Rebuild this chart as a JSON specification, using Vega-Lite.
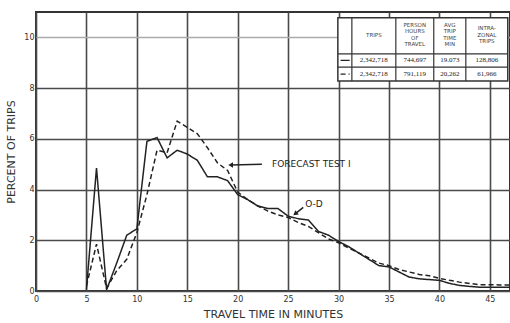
{
  "$schema": "https://vega.github.io/schema/vega-lite/v6.json",
  "width": 474,
  "height": 279,
  "autosize": "none",
  "padding": {"left": 36, "top": 12, "right": 0, "bottom": 32},
  "background": "white",
  "config": {
    "view": {"stroke": "#333", "strokeWidth": 2},
    "font": "DejaVu Sans"
  },
  "datasets": {
    "curves": [
      {"t": 5, "v": 0.05, "series": "O-D"}, {"t": 6, "v": 4.85, "series": "O-D"}, {"t": 7, "v": 0.05, "series": "O-D"},
      {"t": 8, "v": 1.1, "series": "O-D"}, {"t": 9, "v": 2.2, "series": "O-D"}, {"t": 10, "v": 2.45, "series": "O-D"},
      {"t": 11, "v": 5.9, "series": "O-D"}, {"t": 12, "v": 6.05, "series": "O-D"}, {"t": 13, "v": 5.25, "series": "O-D"},
      {"t": 14, "v": 5.55, "series": "O-D"}, {"t": 15, "v": 5.4, "series": "O-D"}, {"t": 16, "v": 5.15, "series": "O-D"},
      {"t": 17, "v": 4.5, "series": "O-D"}, {"t": 18, "v": 4.5, "series": "O-D"}, {"t": 19, "v": 4.35, "series": "O-D"},
      {"t": 20, "v": 3.8, "series": "O-D"}, {"t": 21, "v": 3.6, "series": "O-D"}, {"t": 22, "v": 3.35, "series": "O-D"},
      {"t": 23, "v": 3.25, "series": "O-D"}, {"t": 24, "v": 3.25, "series": "O-D"}, {"t": 25, "v": 2.95, "series": "O-D"},
      {"t": 26, "v": 2.85, "series": "O-D"}, {"t": 27, "v": 2.8, "series": "O-D"}, {"t": 28, "v": 2.35, "series": "O-D"},
      {"t": 29, "v": 2.2, "series": "O-D"}, {"t": 30, "v": 1.95, "series": "O-D"}, {"t": 31, "v": 1.75, "series": "O-D"},
      {"t": 32, "v": 1.5, "series": "O-D"}, {"t": 33, "v": 1.25, "series": "O-D"}, {"t": 34, "v": 1.0, "series": "O-D"},
      {"t": 35, "v": 0.95, "series": "O-D"}, {"t": 36, "v": 0.75, "series": "O-D"}, {"t": 37, "v": 0.55, "series": "O-D"},
      {"t": 38, "v": 0.48, "series": "O-D"}, {"t": 39, "v": 0.45, "series": "O-D"}, {"t": 40, "v": 0.42, "series": "O-D"},
      {"t": 41, "v": 0.3, "series": "O-D"}, {"t": 42, "v": 0.22, "series": "O-D"}, {"t": 43, "v": 0.18, "series": "O-D"},
      {"t": 44, "v": 0.15, "series": "O-D"}, {"t": 45, "v": 0.15, "series": "O-D"}, {"t": 46, "v": 0.15, "series": "O-D"},
      {"t": 47, "v": 0.15, "series": "O-D"},
      {"t": 5, "v": 0.2, "series": "FORECAST TEST I"}, {"t": 6, "v": 1.85, "series": "FORECAST TEST I"}, {"t": 7, "v": 0.1, "series": "FORECAST TEST I"},
      {"t": 8, "v": 0.8, "series": "FORECAST TEST I"}, {"t": 9, "v": 1.25, "series": "FORECAST TEST I"}, {"t": 10, "v": 2.3, "series": "FORECAST TEST I"},
      {"t": 11, "v": 3.8, "series": "FORECAST TEST I"}, {"t": 12, "v": 5.55, "series": "FORECAST TEST I"}, {"t": 13, "v": 5.45, "series": "FORECAST TEST I"},
      {"t": 14, "v": 6.7, "series": "FORECAST TEST I"}, {"t": 15, "v": 6.45, "series": "FORECAST TEST I"}, {"t": 16, "v": 6.2, "series": "FORECAST TEST I"},
      {"t": 17, "v": 5.65, "series": "FORECAST TEST I"}, {"t": 18, "v": 5.05, "series": "FORECAST TEST I"}, {"t": 19, "v": 4.75, "series": "FORECAST TEST I"},
      {"t": 20, "v": 3.9, "series": "FORECAST TEST I"}, {"t": 21, "v": 3.6, "series": "FORECAST TEST I"}, {"t": 22, "v": 3.35, "series": "FORECAST TEST I"},
      {"t": 23, "v": 3.15, "series": "FORECAST TEST I"}, {"t": 24, "v": 3.0, "series": "FORECAST TEST I"}, {"t": 25, "v": 2.9, "series": "FORECAST TEST I"},
      {"t": 26, "v": 2.7, "series": "FORECAST TEST I"}, {"t": 27, "v": 2.55, "series": "FORECAST TEST I"}, {"t": 28, "v": 2.3, "series": "FORECAST TEST I"},
      {"t": 29, "v": 2.05, "series": "FORECAST TEST I"}, {"t": 30, "v": 1.9, "series": "FORECAST TEST I"}, {"t": 31, "v": 1.7, "series": "FORECAST TEST I"},
      {"t": 32, "v": 1.5, "series": "FORECAST TEST I"}, {"t": 33, "v": 1.3, "series": "FORECAST TEST I"}, {"t": 34, "v": 1.1, "series": "FORECAST TEST I"},
      {"t": 35, "v": 1.0, "series": "FORECAST TEST I"}, {"t": 36, "v": 0.85, "series": "FORECAST TEST I"}, {"t": 37, "v": 0.75, "series": "FORECAST TEST I"},
      {"t": 38, "v": 0.65, "series": "FORECAST TEST I"}, {"t": 39, "v": 0.6, "series": "FORECAST TEST I"}, {"t": 40, "v": 0.5, "series": "FORECAST TEST I"},
      {"t": 41, "v": 0.42, "series": "FORECAST TEST I"}, {"t": 42, "v": 0.35, "series": "FORECAST TEST I"}, {"t": 43, "v": 0.3, "series": "FORECAST TEST I"},
      {"t": 44, "v": 0.25, "series": "FORECAST TEST I"}, {"t": 45, "v": 0.25, "series": "FORECAST TEST I"}, {"t": 46, "v": 0.24, "series": "FORECAST TEST I"},
      {"t": 47, "v": 0.24, "series": "FORECAST TEST I"}
    ],
    "labels": [
      {"t": 23.4, "v": 5.0, "label": "FORECAST TEST I"},
      {"t": 26.7, "v": 3.43, "label": "O-D"}
    ],
    "arrows": [
      {"t": 22.4, "v": 5.0, "t2": 19.3, "v2": 4.97},
      {"t": 26.5, "v": 3.3, "t2": 25.7, "v2": 3.04}
    ],
    "heads": [
      {"t": 19.3, "v": 4.97, "angle": 0},
      {"t": 25.7, "v": 3.04, "angle": 322}
    ],
    "tablebox": [
      {"t": 29.93, "t2": 46.78, "v": 10.77, "v2": 8.28}
    ],
    "tablevrules": [
      {"t": 31.32, "v": 10.77, "v2": 8.28},
      {"t": 35.68, "v": 10.77, "v2": 8.28},
      {"t": 39.44, "v": 10.77, "v2": 8.28},
      {"t": 42.62, "v": 10.77, "v2": 8.28}
    ],
    "tablehrules": [
      {"v": 9.35, "t": 29.93, "t2": 46.78},
      {"v": 8.83, "t": 29.93, "t2": 46.78}
    ],
    "tablekeys": [
      {"t": 30.2, "t2": 31.1, "v": 9.09, "series": "O-D"},
      {"t": 30.2, "t2": 31.1, "v": 8.55, "series": "FORECAST TEST I"}
    ],
    "tableheader": [
      {"t": 33.5, "v": 10.18, "text": ["TRIPS"]},
      {"t": 37.56, "v": 10.57, "text": ["PERSON", "HOURS", "OF", "TRAVEL"]},
      {"t": 41.03, "v": 10.57, "text": ["AVG", "TRIP", "TIME", "MIN"]},
      {"t": 44.7, "v": 10.44, "text": ["INTRA-", "ZONAL", "TRIPS"]}
    ],
    "tablecells": [
      {"t": 33.5, "v": 9.09, "text": "2,342,718"},
      {"t": 37.56, "v": 9.09, "text": "744,697"},
      {"t": 41.03, "v": 9.09, "text": "19.073"},
      {"t": 44.7, "v": 9.09, "text": "128,806"},
      {"t": 33.5, "v": 8.55, "text": "2,342,718"},
      {"t": 37.56, "v": 8.55, "text": "791,119"},
      {"t": 41.03, "v": 8.55, "text": "20,262"},
      {"t": 44.7, "v": 8.55, "text": "61,966"}
    ]
  },
  "layer": [
    {
      "data": {"name": "curves"},
      "mark": {"type": "line", "color": "#222", "strokeWidth": 1.5},
      "encoding": {
        "x": {
          "field": "t", "type": "quantitative",
          "scale": {"domain": [0, 47], "nice": false, "zero": false},
          "axis": {
            "values": [0, 5, 10, 15, 20, 25, 30, 35, 40, 45],
            "grid": true, "gridColor": "#4a4a4a", "gridWidth": 1.6,
            "ticks": false, "domain": false,
            "labelFontSize": 8, "labelPadding": 4, "labelColor": "#333", "labelFlush": false,
            "title": "TRAVEL TIME IN MINUTES", "titleFontSize": 11, "titleFontWeight": "normal",
            "titleColor": "#333", "titlePadding": 5
          }
        },
        "y": {
          "field": "v", "type": "quantitative",
          "scale": {"domain": [0, 11], "nice": false},
          "axis": {
            "values": [0, 2, 4, 6, 8, 10],
            "grid": true,
            "gridColor": {"condition": {"test": "datum.value === 10", "value": "#aaa"}, "value": "#4a4a4a"},
            "gridWidth": 1.6,
            "ticks": false, "domain": false,
            "labelFontSize": 8, "labelPadding": 2, "labelColor": "#333",
            "title": "PERCENT OF TRIPS", "titleFontSize": 11, "titleFontWeight": "normal",
            "titleColor": "#333", "titlePadding": 7
          }
        },
        "detail": {"field": "series"},
        "strokeDash": {
          "field": "series", "type": "nominal",
          "scale": {"domain": ["O-D", "FORECAST TEST I"], "range": [[1, 0], [5, 3]]},
          "legend": null
        }
      }
    },
    {
      "data": {"name": "labels"},
      "mark": {"type": "text", "align": "left", "baseline": "middle", "fontSize": 9, "color": "#222"},
      "encoding": {
        "x": {"field": "t", "type": "quantitative"},
        "y": {"field": "v", "type": "quantitative"},
        "text": {"field": "label"}
      }
    },
    {
      "data": {"name": "arrows"},
      "mark": {"type": "rule", "color": "#222", "strokeWidth": 1.5},
      "encoding": {
        "x": {"field": "t", "type": "quantitative"},
        "y": {"field": "v", "type": "quantitative"},
        "x2": {"field": "t2"},
        "y2": {"field": "v2"}
      }
    },
    {
      "data": {"name": "heads"},
      "mark": {"type": "point", "shape": "triangle-left", "filled": true, "color": "#222", "size": 30, "opacity": 1},
      "encoding": {
        "x": {"field": "t", "type": "quantitative"},
        "y": {"field": "v", "type": "quantitative"},
        "angle": {"field": "angle", "type": "quantitative", "scale": null}
      }
    },
    {
      "data": {"name": "tablebox"},
      "mark": {"type": "rect", "fill": "white", "stroke": "#333", "strokeWidth": 1.5},
      "encoding": {
        "x": {"field": "t", "type": "quantitative"},
        "x2": {"field": "t2"},
        "y": {"field": "v", "type": "quantitative"},
        "y2": {"field": "v2"}
      }
    },
    {
      "data": {"name": "tablevrules"},
      "mark": {"type": "rule", "color": "#333", "strokeWidth": 1.2},
      "encoding": {
        "x": {"field": "t", "type": "quantitative"},
        "y": {"field": "v", "type": "quantitative"},
        "y2": {"field": "v2"}
      }
    },
    {
      "data": {"name": "tablehrules"},
      "mark": {"type": "rule", "color": "#333", "strokeWidth": 1.2},
      "encoding": {
        "y": {"field": "v", "type": "quantitative"},
        "x": {"field": "t", "type": "quantitative"},
        "x2": {"field": "t2"}
      }
    },
    {
      "data": {"name": "tablekeys"},
      "mark": {"type": "rule", "color": "#222", "strokeWidth": 1.2},
      "encoding": {
        "y": {"field": "v", "type": "quantitative"},
        "x": {"field": "t", "type": "quantitative"},
        "x2": {"field": "t2"},
        "strokeDash": {
          "field": "series", "type": "nominal",
          "scale": {"domain": ["O-D", "FORECAST TEST I"], "range": [[1, 0], [2.5, 1.5]]},
          "legend": null
        }
      }
    },
    {
      "data": {"name": "tableheader"},
      "mark": {"type": "text", "align": "center", "baseline": "top", "fontSize": 5.5, "lineHeight": 6.5, "color": "#444"},
      "encoding": {
        "x": {"field": "t", "type": "quantitative"},
        "y": {"field": "v", "type": "quantitative"},
        "text": {"field": "text"}
      }
    },
    {
      "data": {"name": "tablecells"},
      "mark": {"type": "text", "align": "center", "baseline": "middle", "fontSize": 7, "font": "Liberation Sans Narrow", "color": "#222"},
      "encoding": {
        "x": {"field": "t", "type": "quantitative"},
        "y": {"field": "v", "type": "quantitative"},
        "text": {"field": "text"}
      }
    }
  ]
}
